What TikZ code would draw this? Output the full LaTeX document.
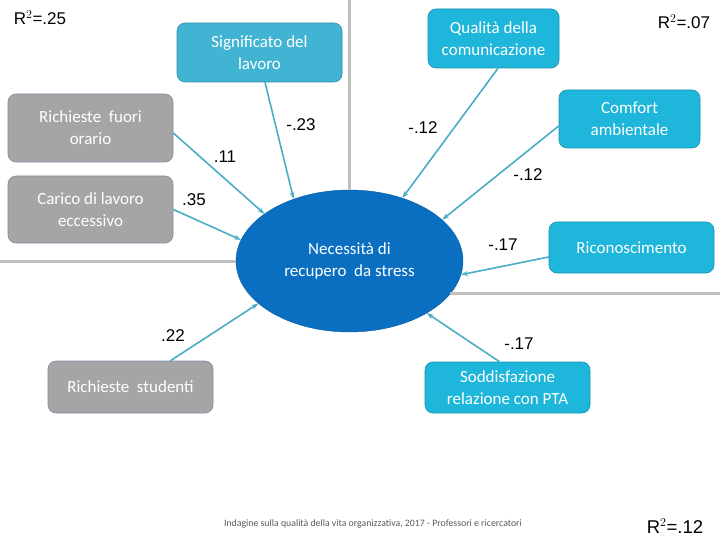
\documentclass[tikz,border=0pt]{standalone}
\usepackage{fontspec}
\setmainfont{Carlito}
\newfontfamily\arialfont{Liberation Sans}
\usetikzlibrary{arrows.meta, shapes.geometric}
\definecolor{boxblue}{HTML}{1EB6DB}
\definecolor{boxblueL}{HTML}{41B4D4}
\definecolor{boxgrey}{HTML}{A5A5A5}
\definecolor{greyedge}{HTML}{7E8EA6}
\definecolor{stressblue}{HTML}{0A6FC1}
\definecolor{linkteal}{HTML}{4BACC6}
\definecolor{axisgrey}{HTML}{BFBFBF}

\begin{document}
\begin{tikzpicture}[x=1pt, y=-1pt,
  factor/.style={rectangle, rounded corners=8pt, draw=#1!80!black, fill=#1, text=white,
    align=center, inner sep=0pt, line width=0.6pt, font=\fontsize{17}{22}\selectfont},
  greybox/.style={rectangle, rounded corners=8pt, draw=greyedge, fill=boxgrey, text=white,
    align=center, inner sep=0pt, line width=0.6pt, font=\fontsize{17}{22}\selectfont},
  link/.style={-{Stealth[length=7pt,width=5pt]}, linkteal, line width=1.6pt},
  coef/.style={font=\arialfont\fontsize{17}{17}\selectfont},
  rsq/.style={font=\arialfont\fontsize{#1}{#1}\selectfont}]
  \useasboundingbox (0,0) rectangle (720,540);

  % Central construct
  \node[ellipse, fill=stressblue, draw=stressblue!85!black, text=white, align=center,
    minimum width=227pt, minimum height=142pt, inner sep=0pt,
    font=\fontsize{17}{22}\selectfont] (stress) at (349.5,261) {Necessità di\\recupero\ \ da stress};

  % Grey axes
  \draw[axisgrey, line width=3pt] (stress.north) -- (stress.north |- 0,0);
  \draw[axisgrey, line width=3pt] (stress.west) -- (stress.west -| 0,0);
  \draw[axisgrey, line width=3pt] (stress.-18) -- (stress.-18 -| 720,0);

  % Predictors
  \node[factor=boxblueL, minimum width=165pt, minimum height=59pt] (sign) at (259.5,52.5) {Significato del\\lavoro};
  \node[factor=boxblue, minimum width=131pt, minimum height=59pt] (qual) at (493.5,38.5) {Qualità della\\comunicazione};
  \node[factor=boxblue, minimum width=141pt, minimum height=58pt] (comf) at (629.5,119) {Comfort\\ambientale};
  \node[factor=boxblue, minimum width=165pt, minimum height=51pt] (ricon) at (631.5,247.5) {Riconoscimento};
  \node[factor=boxblue, minimum width=165pt, minimum height=51pt] (sodd) at (507.5,387.5) {Soddisfazione\\relazione con PTA};
  \node[greybox, minimum width=165pt, minimum height=68pt] (fuori) at (90.5,128) {Richieste\ \ fuori\\orario};
  \node[greybox, minimum width=165pt, minimum height=67pt] (carico) at (90.5,209.5) {Carico di lavoro\\eccessivo};
  \node[greybox, minimum width=165pt, minimum height=52pt] (stud) at (130.5,387) {Richieste\ \ studenti};

  % Paths
  \draw[link] ([xshift=5.5pt]sign.south) -- (stress.132);
  \draw[link] ([yshift=-5pt]fuori.east) -- (stress.151);
  \draw[link] (carico.east) -- (stress.169);
  \draw[link] ([xshift=40pt]stud.north) -- (stress.205);
  \draw[link] ([xshift=4.5pt]qual.south) -- (stress.50);
  \draw[link] ([yshift=-7pt]comf.west) -- (stress.24);
  \draw[link] ([yshift=-9.5pt]ricon.west) -- (stress.-7);
  \draw[link] ([xshift=-8pt]sodd.north) -- (stress.-34);

  % Coefficients
  \node[coef] (csign) at (301,125) {-.23};
  \node[coef] (cfuori) at (225,157) {.11};
  \node[coef] (ccarico) at (194,200) {.35};
  \node[coef] (cstud) at (173,336) {.22};
  \node[coef] (cqual) at (423,128) {-.12};
  \node[coef] (ccomf) at (528,175) {-.12};
  \node[coef] (cricon) at (503,245) {-.17};
  \node[coef] (csodd) at (519,344) {-.17};

  % Explained variance
  \node[rsq=17] (r1) at (40,18) {R$^2$=.25};
  \node[rsq=17] (r2) at (684,22) {R$^2$=.07};
  \node[rsq=18.5] (r3) at (675,526) {R$^2$=.12};

  % Footer
  \node[text=black!65, font=\fontsize{9.8}{10}\selectfont] (foot) at (373,524)
    {Indagine sulla qualità della vita organizzativa, 2017 - Professori e ricercatori};
\end{tikzpicture}
\end{document}
